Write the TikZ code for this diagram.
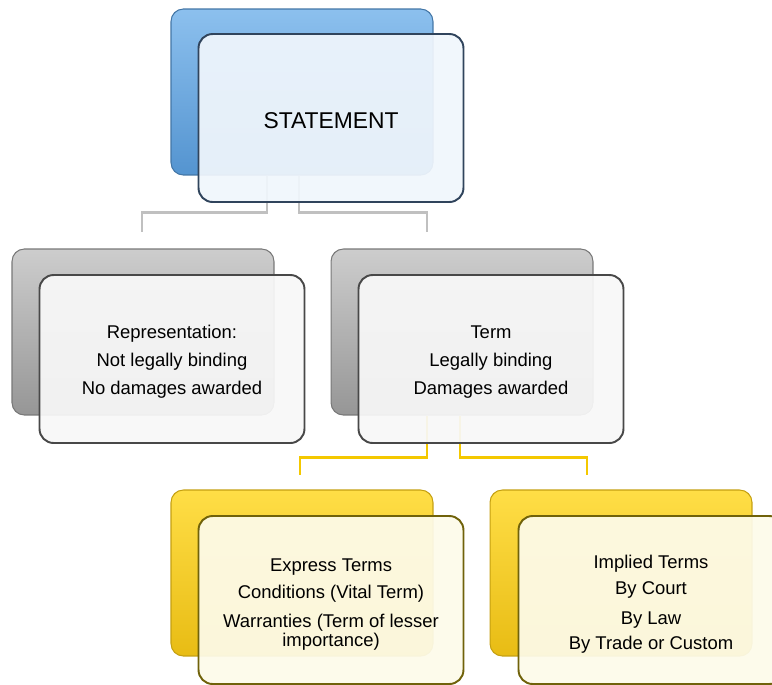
\documentclass[tikz,border=0pt]{standalone}
\usepackage{fontspec}
\setmainfont{Liberation Sans}
\usepackage{xcolor}
\definecolor{backblue}{RGB}{84,148,208}
\definecolor{backbluetop}{RGB}{140,192,238}
\definecolor{edgeblue}{RGB}{48,68,92}
\definecolor{frontblue}{RGB}{240,246,252}
\definecolor{backgrey}{RGB}{150,150,150}
\definecolor{backgreytop}{RGB}{205,205,205}
\definecolor{edgegrey}{RGB}{72,72,72}
\definecolor{frontgrey}{RGB}{248,248,248}
\definecolor{backgold}{RGB}{232,188,20}
\definecolor{backgoldtop}{RGB}{255,222,70}
\definecolor{edgegold}{RGB}{112,98,10}
\definecolor{frontgold}{RGB}{253,251,234}
\definecolor{linegrey}{RGB}{192,192,192}
\definecolor{linegold}{RGB}{244,200,0}
\newcommand{\lowstrut}[1]{\rule{0pt}{#1}}

\begin{document}
\begin{tikzpicture}[x=0.02cm, y=-0.02cm,
	backbox/.style={minimum width=5.24cm, minimum height=3.32cm, rounded corners=7pt, line width=0.6pt},
	frontbox/.style={minimum width=5.3cm, minimum height=3.36cm, rounded corners=8pt, line width=1.1pt, fill opacity=0.93, text opacity=1, align=center, font=\fontsize{10.5}{10.5}\selectfont},
	greyline/.style={draw=linegrey, line width=1.5pt},
	goldline/.style={draw=linegold, line width=1.5pt}]
	\useasboundingbox (0,0) rectangle (772,684);

	\node[backbox, draw=backblue!80!black, top color=backbluetop, bottom color=backblue] (stmtback) at (302,92) {};
	\node[backbox, draw=backgrey!80!black, top color=backgreytop, bottom color=backgrey] (repback) at (143,332) {};
	\node[backbox, draw=backgrey!80!black, top color=backgreytop, bottom color=backgrey] (termback) at (462,332) {};
	\node[backbox, draw=backgold!85!black, top color=backgoldtop, bottom color=backgold] (expback) at (302,573) {};
	\node[backbox, draw=backgold!85!black, top color=backgoldtop, bottom color=backgold] (impback) at (621,573) {};

	\coordinate (repend) at (142,232);
	\coordinate (termend) at (427,232);
	\coordinate (expend) at (300,475);
	\coordinate (impend) at (587,475);

	\draw[greyline] ([shift={(-35,0)}]stmtback.south) -- ++(0,37) -| (repend);
	\draw[greyline] ([shift={(-3,0)}]stmtback.south) -- ++(0,37) -| (termend);
	\draw[goldline] ([shift={(-35,0)}]termback.south) -- ++(0,42) -| (expend);
	\draw[goldline] ([shift={(-2,0)}]termback.south) -- ++(0,42) -| (impend);

	\node[frontbox, draw=edgeblue, fill=frontblue, font=\fontsize{13}{13}\selectfont] (stmt) at ([shift={(29,26)}]stmtback.center) {\lowstrut{12pt}STATEMENT};
	\node[frontbox, draw=edgegrey, fill=frontgrey] (rep) at ([shift={(29,27)}]repback.center) {\lowstrut{11pt}Representation:\\[5.5pt]Not legally binding\\[5.5pt]No damages awarded};
	\node[frontbox, draw=edgegrey, fill=frontgrey] (term) at ([shift={(29,27)}]termback.center) {\lowstrut{11pt}Term\\[5.5pt]Legally binding\\[5.5pt]Damages awarded};
	\node[frontbox, draw=edgegold, fill=frontgold] (exp) at ([shift={(29,27)}]expback.center) {\lowstrut{12.4pt}Express Terms\\[4.6pt]Conditions (Vital Term)\\[6.5pt]Warranties (Term of lesser\\importance)};
	\node[frontbox, draw=edgegold, fill=frontgold] (imp) at ([shift={(30,27)}]impback.center) {\lowstrut{12.4pt}Implied Terms\\[4.4pt]By Court\\[6.5pt]By Law\\[4pt]By Trade or Custom};
\end{tikzpicture}
\end{document}
